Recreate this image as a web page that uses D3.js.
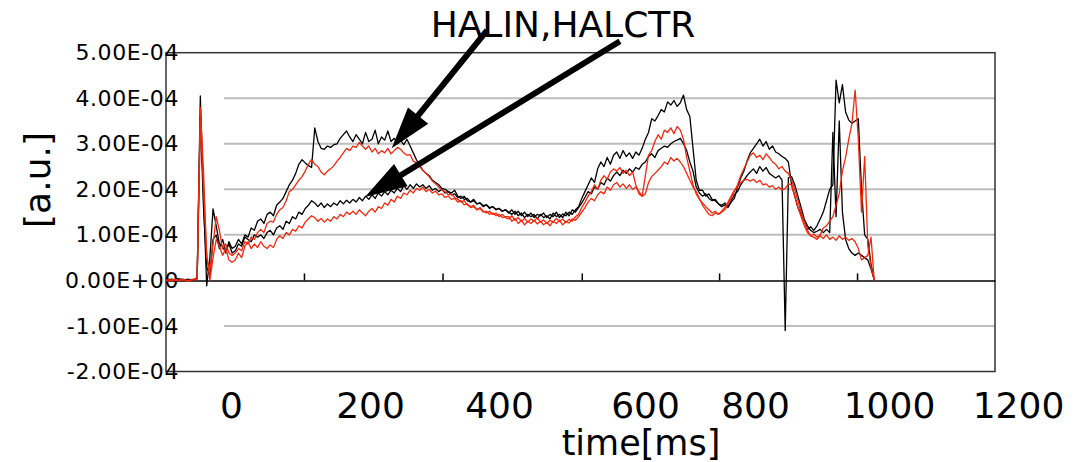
<!DOCTYPE html>
<html>
<head>
<meta charset="utf-8">
<script src="https://cdn.jsdelivr.net/npm/d3@7"></script>
<style>
  body { margin: 0; background: #fff; }
  svg { display: block; }
  text { font-family: "DejaVu Sans", sans-serif; fill: #000; }
</style>
</head>
<body>
<div id="chart"></div>
<script>
// sample grid (ms), one value every 5 ms
const time = d3.range(-105, 1011, 5);

// signals in units of 1e-4 a.u.
const halinBlack = [
  0.02,0.0,0.03,0.01,0.04,0.02,0.0,0.03,0.01,0.02,
  0.05,4.05,1.8,-0.12,0.5,1.57,1.2,0.8,0.75,0.6,
  0.85,0.7,0.75,0.9,0.8,1.0,0.95,1.15,1.1,1.3,
  1.35,1.25,1.45,1.5,1.42,1.65,1.72,1.8,1.95,2.1,
  2.2,2.35,2.55,2.65,2.58,2.52,2.48,3.35,3.05,2.9,
  2.88,2.95,2.92,2.98,3.0,3.12,3.2,3.28,3.15,3.05,
  3.2,3.1,3.0,3.25,3.05,3.1,3.3,3.0,3.15,3.08,
  3.28,3.05,3.12,3.0,3.08,2.98,3.1,2.95,2.8,2.65,
  2.52,2.42,2.35,2.3,2.2,2.15,2.1,2.02,2.0,1.95,
  1.92,1.98,1.85,1.8,1.85,1.75,1.72,1.78,1.68,1.7,
  1.62,1.66,1.58,1.62,1.55,1.58,1.52,1.55,1.48,1.55,
  1.45,1.52,1.42,1.5,1.4,1.48,1.38,1.45,1.42,1.48,
  1.38,1.45,1.4,1.5,1.38,1.46,1.42,1.5,1.45,1.55,
  1.62,1.8,1.95,2.1,2.25,2.15,2.45,2.6,2.5,2.7,
  2.55,2.75,2.82,2.68,2.85,2.72,2.8,2.68,2.82,2.75,
  2.9,3.1,3.25,3.55,3.5,3.62,3.75,3.7,3.92,3.85,
  3.95,3.82,3.9,4.07,3.75,3.6,2.9,2.2,1.98,1.98,
  1.85,1.9,1.78,1.75,1.68,1.62,1.66,1.6,1.72,1.8,
  2.05,2.25,2.4,2.62,2.8,2.9,3.0,3.1,2.95,3.05,
  2.88,2.95,2.82,2.78,2.72,2.68,2.6,2.1,1.85,1.6,
  1.45,1.3,1.12,1.18,1.1,1.2,1.35,1.5,1.75,2.0,
  2.1,4.4,3.9,4.3,3.7,3.52,3.45,3.5,3.55,2.0,
  1.0,0.9,0.35,0.02
];
const halctrBlack = [
  0.01,0.03,0.0,0.02,0.01,0.03,0.02,0.0,0.02,0.01,
  0.04,3.6,1.6,0.3,0.1,0.9,1.0,0.7,0.9,0.65,
  0.8,0.6,0.65,0.8,0.75,0.95,0.9,0.85,1.0,0.95,
  1.0,0.92,1.05,1.1,1.0,1.15,1.2,1.12,1.3,1.25,
  1.4,1.35,1.5,1.45,1.58,1.65,1.75,1.7,1.62,1.7,
  1.6,1.68,1.62,1.7,1.65,1.75,1.68,1.76,1.7,1.78,
  1.72,1.82,1.75,1.85,1.78,1.88,1.8,1.92,1.85,1.95,
  1.88,1.98,1.92,2.02,1.95,2.08,2.0,2.1,2.02,2.12,
  2.05,2.1,2.02,2.08,1.98,2.02,1.95,2.0,1.92,1.95,
  1.88,1.9,1.82,1.85,1.78,1.8,1.72,1.75,1.68,1.7,
  1.64,1.66,1.6,1.62,1.56,1.58,1.52,1.55,1.5,1.45,
  1.52,1.42,1.48,1.38,1.45,1.4,1.45,1.35,1.45,1.38,
  1.42,1.35,1.48,1.4,1.45,1.38,1.5,1.42,1.55,1.5,
  1.6,1.7,1.82,1.95,1.9,2.05,2.0,2.15,2.1,2.25,
  2.18,2.3,2.38,2.3,2.42,2.35,2.45,2.38,2.48,2.44,
  2.55,2.6,2.72,2.78,2.7,2.85,2.9,2.95,2.92,3.0,
  3.05,3.08,3.12,3.0,2.85,2.6,2.4,2.05,1.92,1.85,
  1.9,1.8,1.75,1.78,1.68,1.65,1.7,1.62,1.75,1.88,
  1.95,2.1,2.2,2.3,2.38,2.45,2.35,2.5,2.4,2.48,
  2.35,2.3,2.25,2.3,2.2,-1.1,2.25,2.28,2.1,1.85,
  1.6,1.35,1.2,1.1,1.05,1.08,1.12,1.05,1.12,1.05,
  3.25,1.4,3.5,1.5,0.9,0.7,0.6,0.55,0.6,0.55,
  0.5,0.45,0.25,0.02
];
const halinRed = [
  0.0,0.02,-0.01,0.03,0.01,0.0,0.02,-0.01,0.01,0.03,
  0.06,3.8,2.4,0.5,0.2,0.8,1.4,1.1,0.7,0.8,
  0.6,0.55,0.6,0.7,0.65,0.85,0.8,0.95,0.9,1.05,
  1.12,1.05,1.25,1.3,1.28,1.45,1.55,1.6,1.75,1.95,
  2.0,2.1,2.2,2.28,2.4,2.55,2.66,2.55,2.5,2.38,
  2.32,2.4,2.45,2.52,2.62,2.7,2.8,2.9,2.85,2.95,
  2.92,3.03,2.95,2.88,2.95,2.82,2.9,2.78,2.85,2.8,
  2.9,2.78,2.85,2.92,2.88,2.8,2.75,2.76,2.62,2.58,
  2.5,2.42,2.35,2.28,2.18,2.12,2.05,1.98,1.95,1.88,
  1.9,1.82,1.78,1.72,1.75,1.66,1.62,1.65,1.55,1.6,
  1.52,1.48,1.52,1.45,1.48,1.4,1.45,1.38,1.35,1.42,
  1.32,1.38,1.3,1.36,1.28,1.35,1.3,1.38,1.28,1.33,
  1.25,1.32,1.28,1.36,1.3,1.35,1.27,1.34,1.3,1.4,
  1.45,1.6,1.72,1.85,1.95,2.1,2.0,2.2,2.3,2.22,
  2.38,2.45,2.4,2.48,2.35,2.42,2.3,2.38,2.1,1.9,
  1.85,2.3,2.75,2.85,3.05,3.2,3.1,3.3,3.25,3.35,
  3.22,3.38,3.3,3.1,2.7,2.4,2.1,1.9,1.78,1.7,
  1.62,1.55,1.48,1.52,1.45,1.5,1.55,1.68,1.8,1.95,
  2.1,2.3,2.45,2.6,2.75,2.8,2.7,2.75,2.65,2.78,
  2.7,2.6,2.55,2.45,2.5,2.4,2.35,2.2,2.0,1.75,
  1.5,1.3,1.1,0.98,1.02,0.95,1.0,1.15,1.2,1.3,
  1.4,1.65,1.9,2.4,2.7,3.1,3.45,4.18,3.1,1.5,
  2.72,0.75,0.3,0.0
];
const halctrRed = [
  0.01,-0.02,0.02,0.0,-0.01,0.02,0.01,-0.02,0.0,0.01,
  0.03,3.5,2.0,0.6,0.0,0.5,0.9,0.75,0.55,0.7,
  0.45,0.4,0.45,0.6,0.5,0.75,0.85,0.7,0.8,0.72,
  0.85,0.75,0.7,0.78,0.72,0.9,0.98,0.92,1.05,1.0,
  1.12,1.08,1.2,1.15,1.28,1.35,1.42,1.38,1.3,1.36,
  1.28,1.35,1.3,1.4,1.35,1.45,1.4,1.5,1.45,1.52,
  1.45,1.55,1.48,1.42,1.52,1.58,1.5,1.62,1.58,1.7,
  1.65,1.78,1.72,1.85,1.8,1.92,1.88,1.98,1.92,2.02,
  1.98,2.05,1.95,2.0,1.92,1.96,1.88,1.9,1.82,1.85,
  1.78,1.8,1.72,1.75,1.66,1.68,1.6,1.62,1.55,1.58,
  1.5,1.52,1.45,1.48,1.42,1.45,1.38,1.4,1.4,1.3,
  1.36,1.25,1.32,1.22,1.3,1.25,1.32,1.24,1.3,1.22,
  1.28,1.2,1.3,1.25,1.32,1.22,1.3,1.26,1.35,1.32,
  1.4,1.5,1.6,1.72,1.8,1.75,1.88,1.95,1.9,2.05,
  1.98,2.1,2.15,2.05,2.12,2.02,2.1,2.0,2.05,1.95,
  1.85,1.9,2.15,2.28,2.35,2.42,2.5,2.6,2.55,2.7,
  2.62,2.68,2.6,2.5,2.35,2.2,2.05,1.95,1.8,1.65,
  1.55,1.45,1.42,1.48,1.45,1.52,1.6,1.72,1.85,1.98,
  2.05,2.15,2.2,2.22,2.18,2.22,2.15,2.2,2.1,2.12,
  2.05,2.08,2.0,2.05,1.98,2.02,2.12,2.1,1.85,1.6,
  1.4,1.2,1.05,0.98,0.95,0.9,0.98,0.92,1.0,0.9,
  0.95,0.88,0.98,0.9,0.95,0.88,0.92,0.85,0.7,0.45,
  0.5,0.55,0.95,0.0
];

const yTicks = [-2, -1, 0, 1, 2, 3, 4, 5];
const yTickLabels = ["-2.00E-04", "-1.00E-04", "0.00E+00", "1.00E-04", "2.00E-04", "3.00E-04", "4.00E-04", "5.00E-04"];
const xLabelValues = [0, 200, 400, 600, 800, 1000, 1200];
const innerTicks = [113, 331, 550, 766, 983];

// annotation arrows [time, value] from the label down to the curves
const arrowFrom = [[401, 5.49], [610, 5.25]];
const arrowTo = [[251, 2.9], [209, 1.83]];

const series = [
  { values: halinBlack, color: "#000" },
  { values: halctrBlack, color: "#000" },
  { values: halinRed, color: "#f0290c" },
  { values: halctrRed, color: "#f0290c" }
];

const width = 1090, height = 462;

const svg = d3.select("#chart").append("svg")
  .attr("width", width)
  .attr("height", height);

const x = d3.scaleLinear().domain([-104, 1200]).range([166, 995]);
const y = d3.scaleLinear().domain([-2, 5]).range([371.5, 52.7]);

// the printed labels under the frame do not sit on an even spacing
const xLabel = d3.scaleLinear().domain(xLabelValues).range([231, 370, 499, 645, 755, 889, 1018]);

// gridlines
svg.append("g")
  .selectAll("line")
  .data(yTicks.filter(d => d !== 0 && d !== -2 && d !== 5))
  .join("line")
  .attr("x1", 224)
  .attr("x2", x.range()[1])
  .attr("y1", d => y(d))
  .attr("y2", d => y(d))
  .attr("stroke", "#bdbdbd")
  .attr("stroke-width", 2);

// frame
svg.append("rect")
  .attr("x", x.range()[0])
  .attr("y", y(5))
  .attr("width", x.range()[1] - x.range()[0])
  .attr("height", y(-2) - y(5))
  .attr("fill", "none")
  .attr("stroke", "#333")
  .attr("stroke-width", 1.5);

// zero line with the small upward ticks
const zeroAxis = svg.append("g")
  .attr("transform", `translate(0,${y(0)})`)
  .call(d3.axisTop(x).tickValues(innerTicks).tickSize(7).tickSizeOuter(0).tickFormat(""));
zeroAxis.selectAll("path, line").attr("stroke", "#000").attr("stroke-width", 1.5);

// y labels
const yAxis = svg.append("g")
  .attr("transform", "translate(179,0)")
  .call(d3.axisLeft(y).tickValues(yTicks).tickSize(0).tickPadding(0)
    .tickFormat((d, i) => yTickLabels[i]));
yAxis.select(".domain").remove();
yAxis.selectAll("text")
  .attr("font-family", "DejaVu Sans")
  .attr("font-size", 22)
  .attr("letter-spacing", 0.6)
  .attr("fill", "#000");

// x labels
const xAxis = svg.append("g")
  .attr("transform", "translate(0,418)")
  .call(d3.axisBottom(xLabel).tickValues(xLabelValues).tickSize(0).tickPadding(0)
    .tickFormat(d3.format("d")));
xAxis.select(".domain").remove();
xAxis.selectAll("text")
  .attr("dy", 0)
  .attr("y", 0)
  .attr("font-family", "DejaVu Sans")
  .attr("font-size", 36)
  .attr("fill", "#000");

// curves
const line = d3.line()
  .x((d, i) => x(time[i]))
  .y(d => y(d));

svg.append("g")
  .selectAll("path")
  .data(series)
  .join("path")
  .attr("d", d => line(d.values))
  .attr("fill", "none")
  .attr("stroke", d => d.color)
  .attr("stroke-width", 1.3)
  .attr("stroke-linejoin", "round");

// axis titles
svg.append("text")
  .attr("x", 641)
  .attr("y", 455)
  .attr("text-anchor", "middle")
  .attr("font-size", 35)
  .text("time[ms]");

svg.append("text")
  .attr("transform", "translate(50,180) rotate(-90)")
  .attr("text-anchor", "middle")
  .attr("font-size", 36)
  .text("[a.u.]");

// annotation
svg.append("text")
  .attr("x", 563)
  .attr("y", 37)
  .attr("text-anchor", "middle")
  .attr("font-size", 36)
  .text("HALIN,HALCTR");

const headLen = 42, headHalf = 13;
arrowFrom.forEach((from, i) => {
  const x0 = x(from[0]), y0 = y(from[1]);
  const x1 = x(arrowTo[i][0]), y1 = y(arrowTo[i][1]);
  const len = Math.hypot(x1 - x0, y1 - y0);
  const ux = (x1 - x0) / len, uy = (y1 - y0) / len;
  const bx = x1 - ux * headLen, by = y1 - uy * headLen;

  svg.append("line")
    .attr("x1", x0).attr("y1", y0)
    .attr("x2", bx + ux * 2).attr("y2", by + uy * 2)
    .attr("stroke", "#000")
    .attr("stroke-width", 6);

  svg.append("path")
    .attr("d", `M${x1},${y1}L${bx - uy * headHalf},${by + ux * headHalf}L${bx + uy * headHalf},${by - ux * headHalf}Z`)
    .attr("fill", "#000");
});
</script>
</body>
</html>
